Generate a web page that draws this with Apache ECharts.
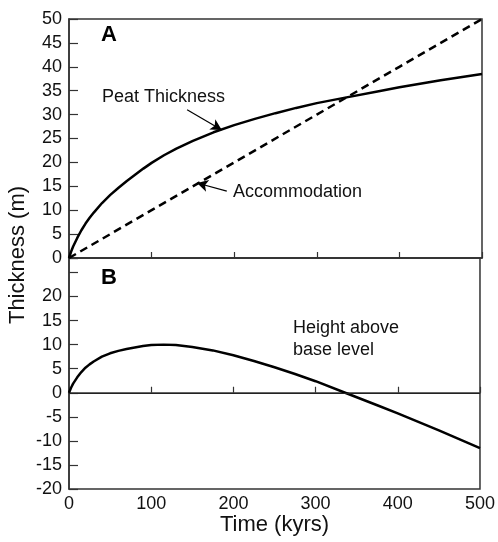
<!DOCTYPE html>
<html>
<head>
<meta charset="utf-8">
<script src="https://cdn.jsdelivr.net/npm/echarts@6/dist/echarts.min.js"></script>
<style>
  html, body { margin: 0; padding: 0; background: #fff; }
  #chart { width: 498px; height: 542px; }
</style>
</head>
<body>
<div id="chart"></div>
<script>
// time axis (kyrs) and curves
var time = [0, 2.5, 5, 10, 15, 20, 25, 30, 40, 50, 60, 70, 80, 90, 100, 115, 130, 150, 175, 200, 225, 250, 275, 300, 336, 375, 400, 450, 500]
var peatThickness = [0, 1.3, 2.4, 4.2, 5.8, 7.2, 8.4, 9.5, 11.5, 13.2, 14.7, 16.1, 17.4, 18.7, 19.9, 21.5, 22.9, 24.5, 26.3, 27.8, 29.1, 30.3, 31.4, 32.4, 33.6, 34.9, 35.7, 37.2, 38.5]
var heightAbove = [0, 1.05, 1.9, 3.2, 4.3, 5.2, 5.9, 6.5, 7.5, 8.2, 8.7, 9.1, 9.4, 9.7, 9.9, 10.0, 9.9, 9.5, 8.8, 7.8, 6.6, 5.3, 3.9, 2.4, 0, -2.6, -4.3, -7.8, -11.5]
var accTime = [0, 100, 200, 300, 400, 500]
var accommodation = [0, 10, 20, 30, 40, 50]

function pairs(xs, ys) {
  return xs.map(function (x, i) { return [x, ys[i]] })
}

var font = 'Liberation Sans, Arial, Helvetica, sans-serif'
var axisColor = '#333'

var myChart = echarts.init(document.getElementById('chart'))
var option = {
  animation: false,
  backgroundColor: '#fff',
  textStyle: { fontFamily: font },
  grid: [
    { left: 69, right: 16, top: 19, height: 239, show: true, borderColor: axisColor, borderWidth: 1.5 },
    { left: 69, right: 16, top: 258, height: 231, show: true, borderColor: axisColor, borderWidth: 1.5 }
  ],
  xAxis: [
    {
      gridIndex: 0, type: 'value', min: 0, max: 500, interval: 100,
      axisLine: { lineStyle: { color: axisColor, width: 1.5 } },
      axisTick: { inside: true, length: 6, lineStyle: { color: axisColor, width: 1.2 } },
      axisLabel: { show: false },
      splitLine: { show: false }
    },
    {
      gridIndex: 1, type: 'value', min: 0, max: 500, interval: 100,
      name: 'Time (kyrs)', nameLocation: 'middle', nameGap: 23,
      nameTextStyle: { fontSize: 22, color: '#111', fontFamily: font },
      axisLine: { lineStyle: { color: axisColor, width: 1.5 } },
      axisTick: { inside: true, length: 6, lineStyle: { color: axisColor, width: 1.2 } },
      axisLabel: { fontSize: 18, color: '#111', margin: 6, fontFamily: font },
      splitLine: { show: false }
    }
  ],
  yAxis: [
    {
      gridIndex: 0, type: 'value', min: 0, max: 50, interval: 5,
      axisLine: { lineStyle: { color: axisColor, width: 1.5 } },
      axisTick: { inside: true, length: 9, lineStyle: { color: axisColor, width: 1.2 } },
      axisLabel: { fontSize: 18, color: '#111', margin: 7, fontFamily: font },
      splitLine: { show: false }
    },
    {
      gridIndex: 1, type: 'value', min: -20, max: 28, interval: 5,
      axisLine: { lineStyle: { color: axisColor, width: 1.5 } },
      axisTick: { inside: true, length: 9, lineStyle: { color: axisColor, width: 1.2 } },
      axisLabel: {
        fontSize: 18, color: '#111', margin: 7, fontFamily: font,
        formatter: function (v) { return v > 20 ? '' : String(v) }
      },
      splitLine: { show: false }
    }
  ],
  series: [
    {
      name: 'Peat Thickness', type: 'line', xAxisIndex: 0, yAxisIndex: 0,
      data: pairs(time, peatThickness), showSymbol: false, smooth: false,
      lineStyle: { color: '#000', width: 2.5 },
      markLine: {
        silent: true, symbol: ['none', 'arrow'], symbolSize: [9, 11],
        label: { show: false },
        lineStyle: { color: '#000', width: 1.2, type: 'solid' },
        data: [[{ coord: [143, 31] }, { coord: [185, 26.8] }]]
      }
    },
    {
      name: 'Accommodation', type: 'line', xAxisIndex: 0, yAxisIndex: 0,
      data: pairs(accTime, accommodation), showSymbol: false,
      lineStyle: { color: '#000', width: 2.5, type: [8, 5] },
      markLine: {
        silent: true, symbol: ['none', 'arrow'], symbolSize: [9, 11],
        label: { show: false },
        lineStyle: { color: '#000', width: 1.2, type: 'solid' },
        data: [[{ coord: [191, 14] }, { coord: [155, 15.7] }]]
      }
    },
    {
      name: 'Height above base level', type: 'line', xAxisIndex: 1, yAxisIndex: 1,
      data: pairs(time, heightAbove), showSymbol: false, smooth: false,
      lineStyle: { color: '#000', width: 2.5 },
      markLine: {
        silent: true, symbol: 'none',
        label: { show: false },
        lineStyle: { color: '#222', width: 1, type: 'solid' },
        data: [{ yAxis: 0 }]
      }
    }
  ],
  graphic: [
    { type: 'text', left: 101, top: 24, style: { text: 'A', fontSize: 22, fontWeight: 'bold', fontFamily: font, fill: '#000' } },
    { type: 'text', left: 101, top: 267, style: { text: 'B', fontSize: 22, fontWeight: 'bold', fontFamily: font, fill: '#000' } },
    { type: 'text', left: 102, top: 88, style: { text: 'Peat Thickness', fontSize: 18, fontFamily: font, fill: '#111' } },
    { type: 'text', left: 233, top: 183, style: { text: 'Accommodation', fontSize: 18, fontFamily: font, fill: '#111' } },
    { type: 'text', left: 293, top: 317, style: { text: 'Height above\nbase level', fontSize: 18, lineHeight: 22, fontFamily: font, fill: '#111' } },
    {
      type: 'text', x: 18, y: 255, rotation: Math.PI / 2,
      style: { text: 'Thickness (m)', fontSize: 22, fontFamily: font, fill: '#111', align: 'center', verticalAlign: 'middle' }
    }
  ]
}
myChart.setOption(option, true)
window.addEventListener('resize', function () {
  myChart.resize()
})
</script>
</body>
</html>
